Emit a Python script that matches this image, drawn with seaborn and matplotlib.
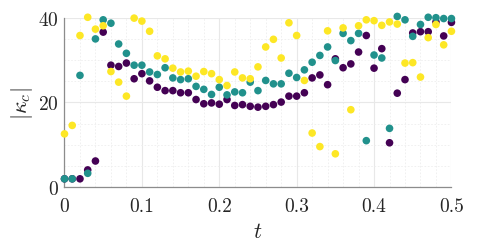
import pandas as pd
import seaborn as sns
import matplotlib.pyplot as plt
from matplotlib.ticker import MultipleLocator

t = [0.00, 0.01, 0.02, 0.03, 0.04, 0.05, 0.06, 0.07, 0.08, 0.09,
     0.10, 0.11, 0.12, 0.13, 0.14, 0.15, 0.16, 0.17, 0.18, 0.19,
     0.20, 0.21, 0.22, 0.23, 0.24, 0.25, 0.26, 0.27, 0.28, 0.29,
     0.30, 0.31, 0.32, 0.33, 0.34, 0.35, 0.36, 0.37, 0.38, 0.39,
     0.40, 0.41, 0.42, 0.43, 0.44, 0.45, 0.46, 0.47, 0.48, 0.49, 0.50]

kappa_1 = [2.0, 2.0, 2.0, 4.1, 6.2, 36.6, 28.8, 28.5, 29.3, 25.6,
           26.8, 25.1, 23.6, 22.8, 22.8, 22.3, 22.3, 20.7, 19.7, 19.9,
           19.6, 20.7, 19.3, 19.5, 19.1, 18.9, 19.1, 19.5, 20.1, 21.5,
           21.5, 22.3, 25.8, 26.5, 24.2, 30.3, 28.2, 29.1, 31.9, 35.8,
           28.1, 32.7, 10.5, 22.2, 25.4, 36.4, 36.7, 36.7, 39.0, 35.7, 38.9]

kappa_2 = [2.0, 2.0, 26.4, 3.3, 35.0, 39.5, 38.7, 33.8, 31.6, 28.8,
           28.8, 27.2, 26.6, 28.2, 25.8, 25.4, 25.6, 23.8, 23.1, 21.9,
           23.6, 21.8, 22.5, 22.3, 24.8, 22.8, 25.2, 24.4, 24.4, 26.9,
           25.9, 27.7, 29.5, 31.1, 33.1, 29.9, 36.3, 34.6, 36.3, 11.0,
           31.2, 30.5, 13.9, 40.3, 39.5, 35.6, 38.4, 40.1, 40.0, 39.8, 39.8]

kappa_3 = [12.6, 14.6, 35.8, 40.1, 37.3, 38.1, 27.3, 24.8, 21.5, 39.9,
           39.2, 36.8, 31.0, 30.3, 28.1, 27.2, 27.4, 26.2, 27.3, 26.8,
           25.4, 24.0, 27.2, 25.8, 25.6, 28.4, 33.1, 34.9, 30.5, 38.8,
           35.8, 25.2, 12.8, 9.6, 36.9, 7.9, 37.6, 18.3, 38.1, 39.5,
           39.3, 38.2, 39.0, 38.5, 29.3, 29.4, 26.0, 35.3, 38.4, 33.6, 36.8]

xtick_vals = [0, 0.1, 0.2, 0.3, 0.4, 0.5]
xtick_labels = ['0', '0.1', '0.2', '0.3', '0.4', '0.5']
ytick_vals = [0, 20, 40]

df = pd.concat([
    pd.DataFrame({'t': t, 'kappa': kappa_1, 'run': 'a'}),
    pd.DataFrame({'t': t, 'kappa': kappa_2, 'run': 'b'}),
    pd.DataFrame({'t': t, 'kappa': kappa_3, 'run': 'c'}),
], ignore_index=True)

sns.set_style("white")
plt.rcParams['font.family'] = ['cmr10', 'DejaVu Serif']
plt.rcParams['mathtext.fontset'] = 'cm'
plt.rcParams['axes.formatter.use_mathtext'] = True

fig = plt.figure(figsize=(4.98, 2.51), dpi=100)
ax = fig.add_axes([0.1295, 0.2498, 0.777, 0.6757])

sns.scatterplot(data=df, x='t', y='kappa', hue='run',
                palette=['#440154', '#21918c', '#fde725'],
                s=30, linewidth=0, legend=False, ax=ax, clip_on=False, zorder=3)

ax.set_xlim(0, 0.5)
ax.set_ylim(0, 40)
ax.set_xticks(xtick_vals)
ax.set_xticklabels(xtick_labels)
ax.set_yticks(ytick_vals)
ax.xaxis.set_minor_locator(MultipleLocator(0.02))
ax.yaxis.set_minor_locator(MultipleLocator(5))

ax.grid(which='major', color='#e8e8e8', linewidth=0.8, linestyle='-')
ax.grid(which='minor', color='#eeeeee', linewidth=0.6, linestyle=(0, (2, 2)))
ax.set_axisbelow(True)

for side in ['top', 'right']:
    ax.spines[side].set_visible(False)
for side in ['left', 'bottom']:
    ax.spines[side].set_color('#8c8c8c')
    ax.spines[side].set_linewidth(0.9)

ax.tick_params(which='major', direction='in', length=4, width=0.8,
               color='#8c8c8c', labelsize=14, labelcolor='#262626')
ax.tick_params(which='minor', direction='in', length=0)
ax.tick_params(axis='x', pad=7)
ax.tick_params(axis='y', pad=4)

ax.set_xlabel('$t$', fontsize=16, color='#262626', labelpad=5)
ax.set_ylabel(r'$|\kappa_c|$', fontsize=16, color='#262626', labelpad=2)

plt.savefig('out.png', dpi=100)
plt.close()
